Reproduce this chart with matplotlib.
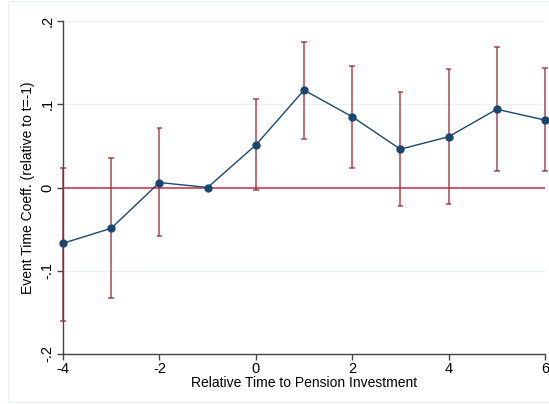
import numpy as np
import matplotlib
matplotlib.use("Agg")
import matplotlib.pyplot as plt
from matplotlib.patches import Rectangle

# event times and coefficients (relative to t=-1)
rel_time = [-4, -3, -2, -1, 0, 1, 2, 3, 4, 5, 6]
coef = [-0.067, -0.049, 0.006, 0.0, 0.051, 0.117, 0.085, 0.046, 0.061, 0.094, 0.081]
ci_low = [-0.160, -0.133, -0.058, 0.0, -0.003, 0.058, 0.024, -0.022, -0.020, 0.020, 0.020]
ci_high = [0.024, 0.035, 0.071, 0.0, 0.106, 0.175, 0.146, 0.115, 0.142, 0.169, 0.143]

yticks = [-0.2, -0.1, 0, 0.1, 0.2]
ytick_labels = ["-.2", "-.1", "0", ".1", ".2"]
xticks = [-4, -2, 0, 2, 4, 6]

navy = "#1a476f"
cranberry = "#9a2a35"
zero_red = "#c8405a"

plt.rcParams["font.family"] = ["Liberation Sans", "DejaVu Sans"]

fig = plt.figure(figsize=(5.49, 4.04), dpi=100)
# faint graph-region outline (right edge runs off the image)
fig.patches.append(Rectangle((8 / 549, 2 / 404), 560 / 549, 401 / 404, transform=fig.transFigure,
                             fill=False, edgecolor="#e8eef2", linewidth=0.8))
ax = fig.add_axes([63 / 549, 1 - 354 / 404, 482 / 549, 333 / 404])

ax.set_xlim(-4, 6)
ax.set_ylim(-0.2, 0.2)

# gridlines
for y in yticks:
    ax.axhline(y, color="#eaf1f4", linewidth=0.9, zorder=0)

ax.axhline(0, color=zero_red, linewidth=1.2, zorder=1)

# confidence intervals (skip reference period)
ci_x = np.array([t for t, lo, hi in zip(rel_time, ci_low, ci_high) if hi != lo])
lo = np.array([l for l, h in zip(ci_low, ci_high) if h != l])
hi = np.array([h for l, h in zip(ci_low, ci_high) if h != l])
err_kw = dict(color=cranberry, linewidth=1.1, alpha=0.85, zorder=3, clip_on=False)
ax.vlines(ci_x, lo, hi, **err_kw)
ax.hlines(lo, ci_x - 0.06, ci_x + 0.06, **err_kw)
ax.hlines(hi, ci_x - 0.06, ci_x + 0.06, **err_kw)

ax.plot(rel_time, coef, color=navy, linewidth=1.0, marker="o", markersize=5,
        markerfacecolor=navy, markeredgecolor=navy, zorder=4, clip_on=False)

ax.set_xticks(xticks)
ax.set_xticklabels([str(t) for t in xticks], fontsize=10.5)
ax.set_yticks(yticks)
ax.set_yticklabels(ytick_labels, fontsize=10.5, rotation=90, va="center")

ax.set_xlabel("Relative Time to Pension Investment", fontsize=10, labelpad=0)
ax.set_ylabel("Event Time Coeff. (relative to t=-1)", fontsize=10, labelpad=4)

for side in ["top", "right"]:
    ax.spines[side].set_visible(False)
for side in ["left", "bottom"]:
    ax.spines[side].set_color("#444444")
    ax.spines[side].set_linewidth(1.0)
ax.tick_params(axis="both", color="#444444", length=4, width=1.0, pad=2)

fig.savefig("out.png", dpi=100)
